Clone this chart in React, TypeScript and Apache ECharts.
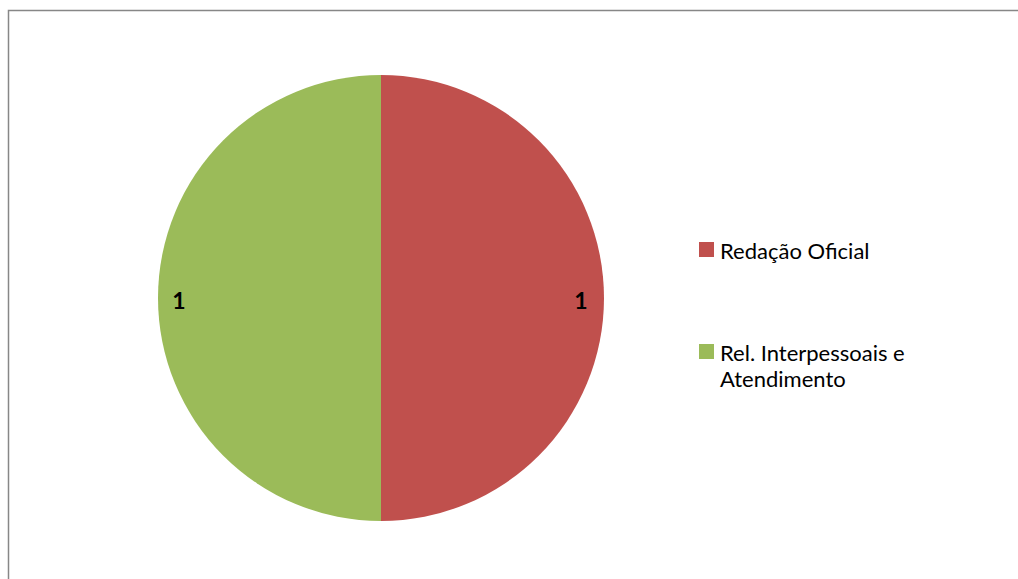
import React, { useEffect, useRef } from "react";
import * as echarts from "echarts";

const categories = ["Redação Oficial", "Rel. Interpessoais e Atendimento"];
const legendLines = [["Redação Oficial"], ["Rel. Interpessoais e", "Atendimento"]];
const values = [1, 1];
const colors = ["#C0504D", "#9BBB59"];

export default function App() {
  const ref = useRef<HTMLDivElement>(null);
  useEffect(() => {
    const chart = echarts.init(ref.current!, null, { renderer: "svg" });
    const data = categories.map((name, i) => ({
      name,
      value: values[i],
      itemStyle: { color: colors[i] },
    }));
    const font = "Lato, 'Open Sans', sans-serif";
    const legendTops = [250, 352];
    const lineStep = 26;
    const legendGraphics: any[] = [];
    categories.forEach((_, i) => {
      legendGraphics.push({
        type: "rect",
        shape: { x: 699, y: legendTops[i] - 8, width: 15, height: 15 },
        style: { fill: colors[i] },
        silent: true,
      });
      legendLines[i].forEach((line, j) => {
        legendGraphics.push({
          type: "text",
          x: 720,
          y: legendTops[i] + j * lineStep,
          style: {
            text: line,
            fontFamily: font,
            fontSize: 22,
            lineHeight: 24,
            fill: "#000",
            verticalAlign: "middle",
            align: "left",
          },
          silent: true,
        });
      });
    });
    chart.setOption({
      animation: false,
      backgroundColor: "#fff",
      graphic: [
        {
          type: "rect",
          shape: { x: 8.5, y: 10.5, width: 1200, height: 800 },
          style: { fill: "none", stroke: "#878787", lineWidth: 1.5 },
          silent: true,
        },
        ...legendGraphics,
      ],
      series: [
        {
          type: "pie",
          center: [381, 298],
          radius: 223,
          startAngle: 90,
          clockwise: true,
          label: { show: false },
          labelLine: { show: false },
          emphasis: { disabled: true },
          data,
        },
        {
          type: "pie",
          center: [380, 300],
          radius: [173, 223],
          startAngle: 90,
          clockwise: true,
          silent: true,
          itemStyle: { color: "rgba(0,0,0,0)" },
          label: {
            show: true,
            position: "inside",
            formatter: "{c}",
            fontFamily: font,
            fontSize: 23,
            fontWeight: "bold",
            color: "#000",
          },
          labelLine: { show: false },
          emphasis: { disabled: true },
          data: categories.map((name, i) => ({
            name,
            value: values[i],
            itemStyle: { color: "rgba(0,0,0,0)" },
          })),
        },
      ],
    });
    return () => chart.dispose();
  }, []);
  return (
    <div
      ref={ref}
      style={{ position: "fixed", left: 0, top: 0, width: 1018, height: 579 }}
    />
  );
}
